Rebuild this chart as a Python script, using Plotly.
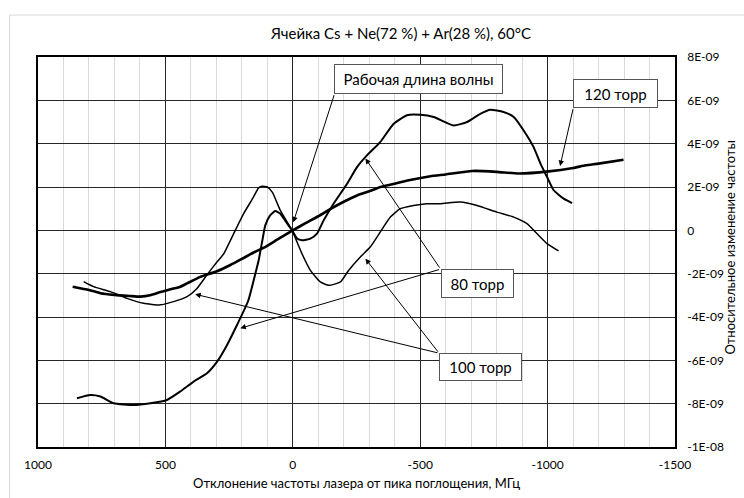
import numpy as np
import plotly.graph_objects as go

E9 = 1e-9

# 120 torr (thick, smooth)
p120_x = [864, 800, 755, 700, 640, 598, 560, 519, 480, 441, 415, 363, 300, 245, 200, 150, 113, 60, 0,
          -50, -100, -150, -200, -250, -300, -344, -400, -450, -540, -600, -704, -800, -887, -1005, -1100, -1149, -1200, -1298]
p120_y = [-2.6, -2.75, -2.9, -2.98, -3.03, -3.06, -3.0, -2.85, -2.72, -2.6, -2.45, -2.15, -1.9, -1.6, -1.32, -1.0, -0.8, -0.42, 0.0,
          0.33, 0.65, 1.0, 1.32, 1.6, 1.8, 2.0, 2.15, 2.3, 2.5, 2.58, 2.74, 2.7, 2.62, 2.72, 2.88, 3.0, 3.08, 3.26]

# 80 torr
p80_x = [847, 795, 755, 703, 625, 559, 494, 442, 389, 337, 297, 258, 219, 175, 147, 134, 120, 108, 89, 69, 49, 22, 3,
         -17, -36, -69, -95, -121, -160, -213, -252, -291, -343, -396, -448, -500, -553, -631, -684, -736, -775, -827,
         -867, -906, -945, -972, -998, -1024, -1063, -1096]
p80_y = [-7.75, -7.6, -7.67, -7.98, -8.06, -7.98, -7.83, -7.44, -6.98, -6.6, -6.06, -5.29, -4.37, -3.25, -2.0, -1.38, -0.5, 0.23, 0.69, 0.89, 0.77, 0.31, 0.0,
         -0.38, -0.46, -0.38, -0.15, 0.46, 1.23, 2.15, 2.92, 3.46, 4.07, 4.92, 5.31, 5.33, 5.23, 4.84, 5.0, 5.38, 5.57, 5.46,
         5.23, 4.61, 3.84, 3.08, 2.46, 1.85, 1.46, 1.26]

# 100 torr
p100_x = [821, 782, 716, 651, 586, 520, 468, 415, 376, 337, 297, 271, 232, 193, 154, 135, 121, 100, 80, 49, 3,
          -36, -69, -108, -141, -187, -219, -265, -304, -343, -383, -422, -474, -526, -579, -657, -723, -801, -867,
          -919, -958, -998, -1043]
p100_y = [-2.37, -2.6, -2.83, -3.14, -3.37, -3.44, -3.29, -3.06, -2.68, -2.06, -1.45, -1.08, -0.15, 0.77, 1.54, 1.95, 2.03, 2.0, 1.75, 0.92, 0.0,
          -1.08, -1.85, -2.38, -2.54, -2.38, -1.85, -1.23, -0.77, -0.08, 0.61, 1.0, 1.15, 1.23, 1.23, 1.31, 1.15, 0.84, 0.61,
          0.31, -0.15, -0.61, -0.95]

y_tickvals = [8, 6, 4, 2, 0, -2, -4, -6, -8, -10]
y_ticktext = ["8E-09", "6E-09", "4E-09", "2E-09", "0", "-2E-09", "-4E-09", "-6E-09", "-8E-09", "-1E-08"]
x_tickvals = [1000, 500, 0, -500, -1000, -1500]
x_ticktext = ["1000", "500", "0", "-500", "-1000", "-1500"]

title_text = "Ячейка Cs + Ne(72 %) + Ar(28 %), 60°C"
x_title = "Отклонение частоты лазера от пика поглощения, МГц"
y_title = "Относительное изменение частоты"

# label boxes: text, centre (x, y e-9), width, height
labels = [
    ("Рабочая длина волны", -495, 7.0, 167, 28),
    ("120 торр", -1267, 6.33, 83, 27),
    ("80 торр", -724, -2.45, 71, 27),
    ("100 торр", -737, -6.32, 81, 26),
]
# arrows: (head x, head y, tail x, tail y) in data units (y e-9)
arrows = [
    (-2, 0.37, -164, 6.31),
    (-1049, 2.97, -1101, 5.66),
    (-285, 3.32, -580, -1.79),
    (206, -4.52, -580, -1.79),
    (-285, -1.31, -574, -5.67),
    (383, -2.95, -574, -5.67),
]

FONT = "Lato, Carlito, Calibri, sans-serif"

fig = go.Figure()
for xs, ys, w in [(p120_x, p120_y, 2.6), (p80_x, p80_y, 2.0), (p100_x, p100_y, 1.5)]:
    fig.add_trace(go.Scatter(x=xs, y=np.array(ys) * E9, mode="lines",
                             line=dict(color="black", width=w, shape="spline", smoothing=0.5),
                             showlegend=False, hoverinfo="skip"))

ann = []
for hx, hy, tx, ty in arrows:
    ann.append(dict(x=hx, y=hy * E9, ax=tx, ay=ty * E9, xref="x", yref="y", axref="x", ayref="y",
                    text="", showarrow=True, arrowhead=2, arrowsize=1.1, arrowwidth=1,
                    arrowcolor="black", standoff=0, startstandoff=0))
for t, cx, cy, w, h in labels:
    ann.append(dict(x=cx, y=cy * E9, xref="x", yref="y", text=t, showarrow=False,
                    width=w, height=h, bgcolor="white", bordercolor="#555555", borderwidth=1,
                    borderpad=0, font=dict(family=FONT, size=15, color="black"),
                    xanchor="center", yanchor="middle", align="center", valign="middle"))
ann.append(dict(x=0.569, y=1.0607, xref="paper", yref="paper", text=title_text, showarrow=False,
                font=dict(family=FONT, size=15, color="black"), xanchor="center", yanchor="middle"))
ann.append(dict(x=0.5, y=-0.0922, xref="paper", yref="paper", text=x_title, showarrow=False,
                font=dict(family=FONT, size=13, color="black"), xanchor="center", yanchor="middle"))
ann.append(dict(x=1.0868, y=0.512, xref="paper", yref="paper", text=y_title, showarrow=False,
                textangle=-90, font=dict(family=FONT, size=13, color="black"),
                xanchor="center", yanchor="middle"))

fig.update_layout(
    width=744, height=498,
    margin=dict(l=37.7, r=69.3, t=56.7, b=51),
    paper_bgcolor="white", plot_bgcolor="white",
    font=dict(family=FONT, size=12, color="black"),
    annotations=ann,
    shapes=[
        dict(type="line", xref="paper", yref="paper", x0=-0.0446, x1=1.2, y0=1.1076, y1=1.1076,
             line=dict(color="#d9d9d9", width=1)),
        dict(type="line", xref="paper", yref="paper", x0=-0.0446, x1=-0.0446, y0=-0.2, y1=1.1076,
             line=dict(color="#d9d9d9", width=1)),
    ],
)
fig.update_xaxes(range=[1000, -1500], tickvals=x_tickvals, ticktext=x_ticktext,
                 showgrid=True, gridcolor="#262626", gridwidth=1.3, zeroline=False,
                 minor=dict(dtick=100, showgrid=True, gridcolor="#d9d9d9", gridwidth=1),
                 showline=True, mirror=True, linecolor="black", linewidth=1.6,
                 ticks="outside", ticklen=6, tickcolor="rgba(0,0,0,0)",
                 tickfont=dict(family=FONT, size=12))
fig.update_yaxes(range=[-10 * E9, 8 * E9], tickvals=np.array(y_tickvals) * E9, ticktext=y_ticktext,
                 side="right", showgrid=True, gridcolor="#262626", gridwidth=1.3, zeroline=False,
                 showline=True, mirror=True, linecolor="black", linewidth=1.6,
                 ticks="outside", ticklen=8, tickcolor="rgba(0,0,0,0)",
                 tickfont=dict(family=FONT, size=12))

fig.write_html("out.html", config={"displayModeBar": False},
               post_script="document.body.style.margin='0';document.body.style.overflow='hidden';")
